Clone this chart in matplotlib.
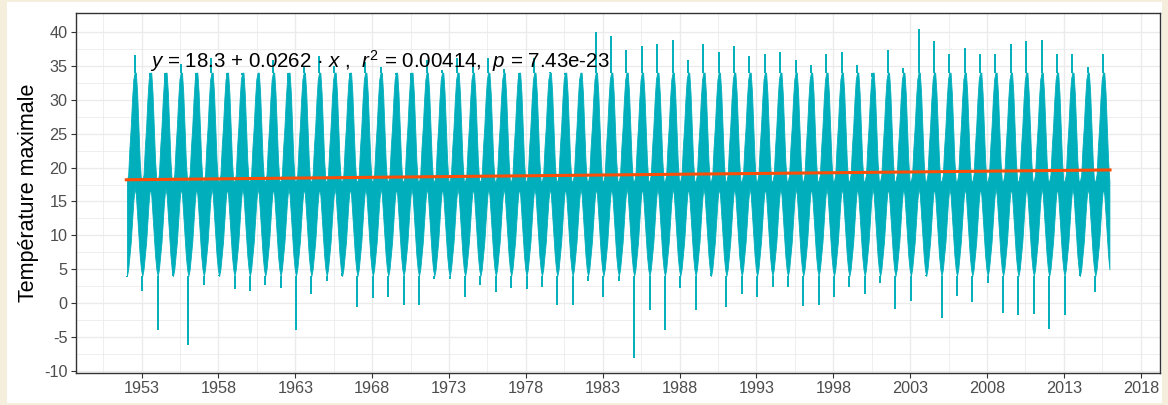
import numpy as np
import matplotlib
matplotlib.use("Agg")
import matplotlib.pyplot as plt
from matplotlib.patches import Rectangle

# Annual extremes of the daily series (1952-2015)
years = np.arange(1952, 2016)
annual_max = [36.6, 33.4, 32.6, 35.3, 32.8, 36.2, 33.5, 33.6, 34.0, 35.8,
              32.8, 35.0, 36.5, 35.0, 33.0, 35.5, 34.8, 33.7, 32.8, 35.8,
              34.4, 36.1, 35.1, 36.2, 34.6, 31.7, 36.1, 34.1, 33.6, 33.9,
              40.0, 39.4, 37.3, 38.0, 38.2, 38.8, 35.9, 38.2, 37.0, 38.0,
              36.4, 36.7, 37.1, 35.9, 35.1, 36.7, 37.1, 35.1, 33.4, 37.3,
              34.7, 40.5, 38.7, 36.7, 37.6, 36.7, 36.7, 38.3, 38.7, 38.8,
              36.7, 36.7, 34.9, 36.7]
annual_min = [3.8, 1.8, -4.0, 5.5, -6.2, 2.7, 4.2, 2.1, 1.8, 2.7,
              2.3, -4.0, 1.3, 3.2, 4.4, -0.5, 0.8, 0.9, -0.2, -0.2,
              3.6, 3.6, 0.9, 2.7, 1.6, 2.3, 2.1, 2.4, -0.3, -0.2,
              3.3, 0.9, 3.3, -8.1, -1.0, -4.0, 2.3, -1.0, 4.5, -0.5,
              1.4, 0.9, 2.4, 2.4, -0.4, -0.2, 0.9, 2.4, 1.3, 3.0,
              -0.8, 0.3, 4.2, -2.2, 1.1, 0.2, 3.0, -1.5, -1.8, -1.6,
              -3.8, -1.8, 4.9, 1.6]

# Typical upper / lower daily values per month (seasonal band of the chart)
month_high = [18, 19, 23, 26, 30, 33, 34, 34, 31, 26, 21, 18]
month_low = [4, 5, 7, 9, 12, 15, 17, 16, 13, 10, 7, 5]

# Trend line values at the first and last day
trend_x = [1952.0, 2016.0]
trend_y = [18.2, 19.65]

annotation = r"$y$ = 18.3 + 0.0262 · $x$ ,  $r^2$ = 0.00414,  $p$ = 7.43e-23"

plt.rcParams['font.family'] = ['Liberation Sans', 'DejaVu Sans']
plt.rcParams['mathtext.fontset'] = 'custom'
plt.rcParams['mathtext.rm'] = 'Liberation Sans'
plt.rcParams['mathtext.it'] = 'Liberation Sans:italic'
plt.rcParams['axes.unicode_minus'] = False

# seasonal band, month by month
t_band, hi_band, lo_band = [], [], []
for yr in years:
    for m in range(12):
        t_band.append(yr + (m + 0.5) / 12)
        hi_band.append(month_high[m])
        lo_band.append(month_low[m])

teal = '#00AFBB'
W, H = 1168, 405
fig = plt.figure(figsize=(W / 100, H / 100), dpi=100)
fig.patch.set_facecolor('#F5EEDD')
fig.patches.append(Rectangle((7 / W, 2 / H), 1155 / W, 401 / H,
                             transform=fig.transFigure, facecolor='white',
                             edgecolor='none', zorder=-10))

ax = fig.add_axes([76 / W, 1 - 373 / H, (1160 - 76) / W, (373 - 13) / H])
ax.fill_between(t_band, lo_band, hi_band, color=teal, linewidth=0.6,
                edgecolor=teal, zorder=2)
# summer peaks and winter lows
ax.vlines(years + 6.5 / 12, month_high[6], annual_max, color=teal,
          linewidth=1.4, zorder=2)
ax.vlines(years + 0.5 / 12, annual_min, month_low[0], color=teal,
          linewidth=1.4, zorder=2)
ax.plot(trend_x, trend_y, color='#FC4E07', linewidth=2.2, zorder=3)

ax.set_xlim(1948.73, 2019.25)
ax.set_ylim(-10.3, 42.8)
ax.set_xticks(np.arange(1953, 2019, 5))
ax.set_xticks(np.arange(1950.5, 2019, 5), minor=True)
ax.set_yticks(np.arange(-10, 41, 5))
ax.set_yticks(np.arange(-7.5, 42, 5), minor=True)
ax.grid(which='major', color='#EBEBEB', linewidth=1.0, zorder=0)
ax.grid(which='minor', color='#EBEBEB', linewidth=0.6, zorder=0)
ax.set_axisbelow(True)
ax.tick_params(which='major', length=3.5, width=0.8, color='#333333',
               labelsize=11.7, labelcolor='#4D4D4D', pad=2.5)
ax.tick_params(which='minor', length=0)
for s in ax.spines.values():
    s.set_color('#333333')
    s.set_linewidth(1.0)

ax.set_ylabel('Température maximale', fontsize=15.5, color='black', labelpad=4)
ax.text(0.068, 0.847, annotation, transform=ax.transAxes, fontsize=14.8,
        ha='left', va='baseline', color='black', zorder=5)

fig.savefig('out.png', dpi=100, facecolor=fig.get_facecolor())
